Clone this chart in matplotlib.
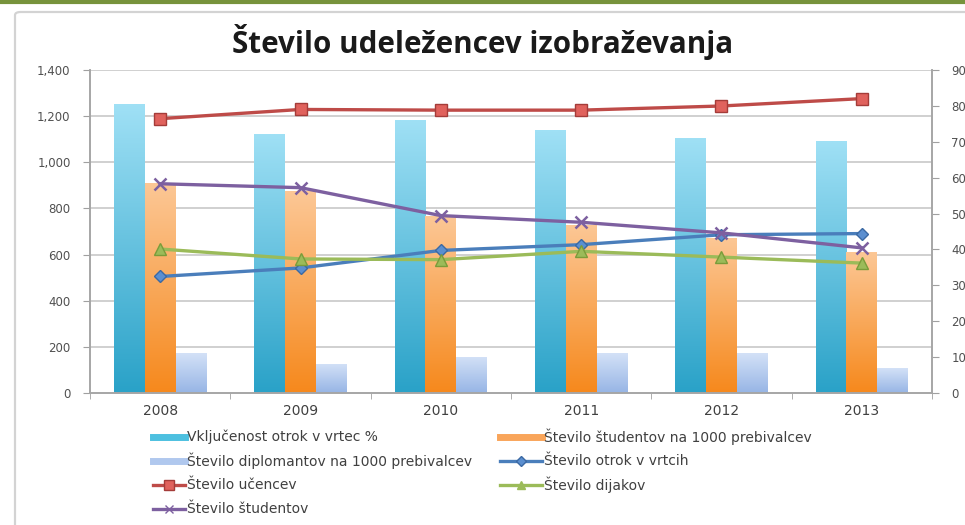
"""
Število udeležencev izobraževanja: bars on the right axis, lines on the left.
"""
import matplotlib
matplotlib.use('Agg')
import matplotlib.pyplot as plt
import numpy as np
from matplotlib.colors import to_rgb
from matplotlib.lines import Line2D
from matplotlib.patches import FancyBboxPatch

# data
years = ['2008', '2009', '2010', '2011', '2012', '2013']

# bars (right axis)
vkljucenost = [80.4, 72.3, 76.2, 73.2, 71.1, 70.2]
studenti_1000 = [58.5, 56.2, 49.2, 46.9, 43.2, 39.2]
diplomanti_1000 = [11.1, 8.1, 10.1, 11.1, 11.1, 6.9]

# lines (left axis)
otroci_vrtci = [505, 542, 618, 643, 686, 691]
ucenci = [1189, 1229, 1226, 1226, 1244, 1276]
dijaki = [624, 581, 578, 614, 589, 563]
studenti = [907, 890, 769, 740, 694, 629]

left_ticks = [0, 200, 400, 600, 800, 1000, 1200, 1400]
right_ticks = [0, 10, 20, 30, 40, 50, 60, 70, 80, 90]

title = 'Število udeležencev izobraževanja'
lbl_vkljucenost = 'Vključenost otrok v vrtec %'
lbl_studenti_1000 = 'Število študentov na 1000 prebivalcev'
lbl_diplomanti_1000 = 'Število diplomantov na 1000 prebivalcev'
lbl_otroci = 'Število otrok v vrtcih'
lbl_ucenci = 'Število učencev'
lbl_dijaki = 'Število dijakov'
lbl_studenti = 'Število študentov'

W, H = 965, 525
fig = plt.figure(figsize=(W / 100, H / 100), dpi=100)
fig.patch.set_facecolor('white')

# slide decoration: green rule and chart-area frame
fig.add_artist(Line2D([0, 1], [1 - 2 / H, 1 - 2 / H], color='#77933c', lw=3.0,
                      transform=fig.transFigure))
fig.add_artist(FancyBboxPatch((15 / W, -0.05), 1.0, 1 - 12 / H + 0.05,
                              boxstyle='round,pad=0,rounding_size=0.006',
                              transform=fig.transFigure, fill=False,
                              edgecolor='#d3d3d3', lw=1.6))

ax2 = fig.add_axes([90 / W, 1 - 393 / H, (932 - 90) / W, (393 - 70) / H])
ax = ax2.twinx()
ax.yaxis.tick_left()
ax2.yaxis.tick_right()
ax.set_zorder(ax2.get_zorder() + 1)
ax.patch.set_visible(False)
ax.grid(False)
ax2.grid(False)

ax2.set_xlim(-0.5, len(years) - 0.5)
ax2.set_ylim(0, 90)
ax.set_ylim(0, 1400)

# gridlines follow the left axis but sit under the bars
for v in left_ticks[1:]:
    ax2.axhline(v / left_ticks[-1] * right_ticks[-1], color='#c8c8c8',
                lw=1.2, zorder=1)

x = np.arange(len(years))
bw = 0.22

def gradient_bars(axis, xs, vals, top, bottom):
    bars = axis.bar(xs, vals, width=bw, color='none', edgecolor='none', zorder=2)
    grad = np.linspace(0, 1, 64)[:, None, None]
    c0, c1 = np.array(to_rgb(top)), np.array(to_rgb(bottom))
    img = c0 * (1 - grad) + c1 * grad
    for b in bars:
        x0, w, h = b.get_x(), b.get_width(), b.get_height()
        im = axis.imshow(img, extent=[x0, x0 + w, 0, h], origin='upper',
                         aspect='auto', zorder=2, interpolation='bilinear')
        im.set_clip_path(b)

gradient_bars(ax2, x - bw, vkljucenost, '#9fe0f5', '#2aa2c8')
gradient_bars(ax2, x, studenti_1000, '#fcc795', '#f6891d')
gradient_bars(ax2, x + bw, diplomanti_1000, '#d3e1f7', '#97b5e5')
ax2.set_xlim(-0.5, len(years) - 0.5)
ax2.set_ylim(0, 90)

ax.plot(x, otroci_vrtci, color='#4a7ebb', lw=2.4, marker='D', ms=6.5,
        mfc='#5b8fd0', mec='#3b69a3', zorder=5)
ax.plot(x, ucenci, color='#be4b48', lw=2.4, marker='s', ms=9,
        mfc='#e0625d', mec='#a43c39', zorder=5)
ax.plot(x, dijaki, color='#9bbb59', lw=2.4, marker='^', ms=8,
        mfc='#9bbb59', mec='#7a9c3a', zorder=5)
ax.plot(x, studenti, color='#7d60a0', lw=2.4, marker='x', ms=8, mew=1.8,
        zorder=5)

ax2.set_yticks(right_ticks)
ax2.set_yticklabels([str(v) for v in right_ticks])
ax.set_yticks(left_ticks)
ax.set_yticklabels([f'{v:,}' for v in left_ticks])

ax2.set_xticks(x)
ax2.set_xticklabels(years)
ax2.set_xticks(np.arange(-0.5, len(years)), minor=True)
ax2.tick_params(axis='x', which='major', length=0, pad=8, labelsize=10,
                labelcolor='#404040')
ax2.tick_params(axis='x', which='minor', length=4, color='#a0a0a0')

ax2.tick_params(axis='y', length=5, pad=9, labelsize=8.5, color='#a0a0a0',
                labelcolor='#505050')
ax.tick_params(axis='y', length=5, pad=9, labelsize=8.5, color='#a0a0a0',
               labelcolor='#505050')

for a in (ax, ax2):
    a.spines['top'].set_visible(False)
    for s in ('left', 'right', 'bottom'):
        a.spines[s].set_color('#a6a6a6')
        a.spines[s].set_linewidth(1.2)

fig.text(483 / W, 1 - 42 / H, title, ha='center', va='center',
         fontsize=21.3, fontweight='bold', family='Open Sans',
         color='#1a1a1a')

# legend, laid out by hand in two columns, four rows
legend_items = [
    (lbl_vkljucenost, dict(color='#4dc0e0', lw=5)),
    (lbl_studenti_1000, dict(color='#f9a55a', lw=5)),
    (lbl_diplomanti_1000, dict(color='#b0c8ee', lw=5)),
    (lbl_otroci, dict(color='#4a7ebb', lw=2.4, marker='D', ms=5,
                      mfc='#5b8fd0', mec='#3b69a3')),
    (lbl_ucenci, dict(color='#be4b48', lw=2.4, marker='s', ms=7,
                      mfc='#e0625d', mec='#a43c39')),
    (lbl_dijaki, dict(color='#9bbb59', lw=2.4, marker='^', ms=6)),
    (lbl_studenti, dict(color='#7d60a0', lw=2.4, marker='x', ms=6)),
]
col_x = [153, 500]
col_len = [32, 42]
row_y = [437, 461, 485, 509]
for i, (lbl, style) in enumerate(legend_items):
    hx = col_x[i % 2]
    hl = col_len[i % 2]
    hy = 1 - row_y[i // 2] / H
    line_style = {k: v for k, v in style.items()
                  if k not in ('marker', 'ms', 'mfc', 'mec')}
    fig.add_artist(Line2D([hx / W, (hx + hl) / W], [hy, hy],
                          transform=fig.transFigure, **line_style))
    if 'marker' in style:
        fig.add_artist(Line2D([(hx + hl / 2) / W], [hy], lw=0,
                              transform=fig.transFigure, marker=style['marker'],
                              ms=style['ms'], color=style['color'],
                              mfc=style.get('mfc', style['color']),
                              mec=style.get('mec', style['color'])))
    fig.text((hx + hl + 2) / W, hy, lbl, ha='left', va='center',
             fontsize=10, color='#404040')

fig.savefig('out.png', dpi=100)
